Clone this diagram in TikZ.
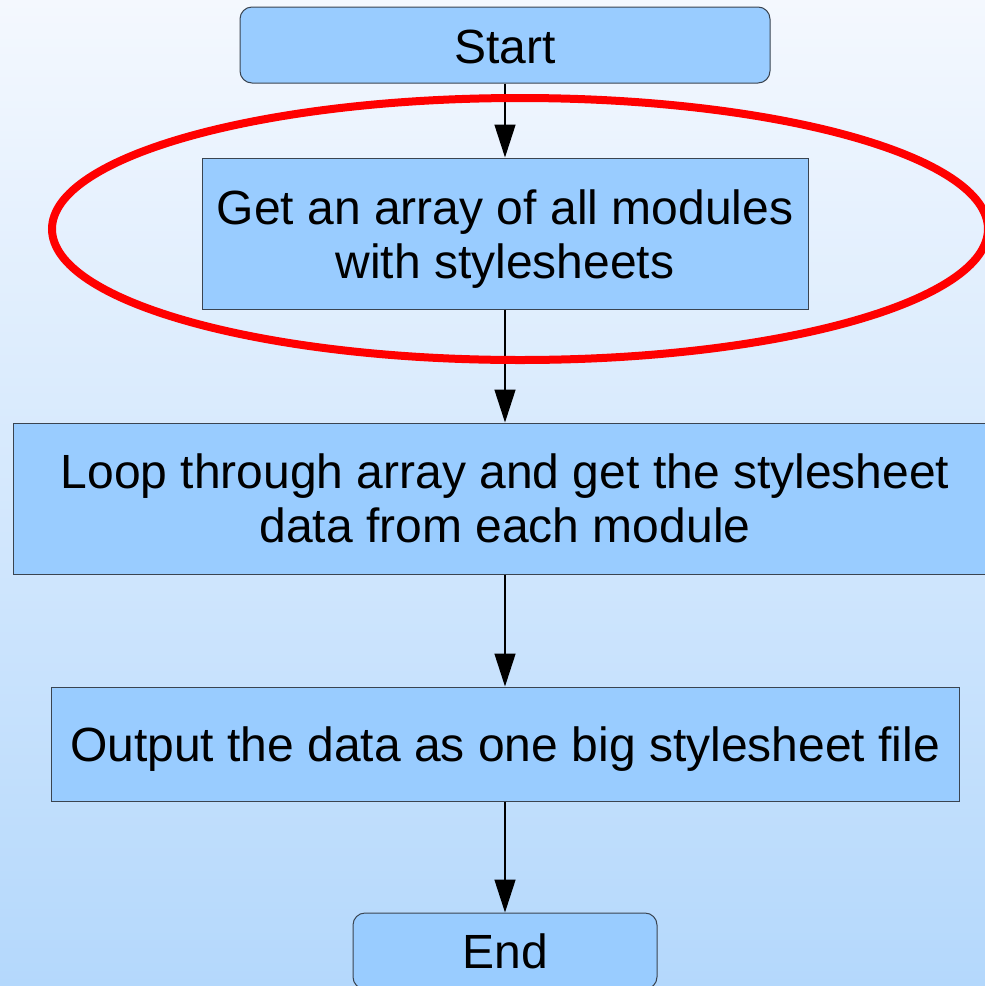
\documentclass[tikz,border=0pt]{standalone}
\usepackage{fontspec}
\setmainfont{Liberation Sans}
\usetikzlibrary{arrows.meta}
\definecolor{boxfill}{HTML}{99CCFF}
\definecolor{bgtop}{HTML}{F4F8FE}
\definecolor{bgbot}{HTML}{B4D8FC}
\definecolor{edge}{HTML}{3A4450}
\begin{document}
\begin{tikzpicture}[x=1pt,y=-1pt,
  boxbase/.style={draw=edge,line width=1pt,fill=boxfill,inner sep=0pt,align=center,
    font=\fontsize{48}{54}\selectfont},
  termbox/.style={boxbase,rounded corners=12pt},
  flowarrow/.style={draw=black,line width=1.5pt,-{Triangle[length=33pt,width=21pt]}}]
\useasboundingbox (0,0) rectangle (985,986);
\clip (0,0) rectangle (985,986);
\shade[top color=bgtop,bottom color=bgbot] (0,0) rectangle (985,986);
\node[termbox,minimum width=530pt,minimum height=76pt] (start) at (505,45) {\rule{0pt}{37pt}Start};
\node[boxbase,minimum width=606pt,minimum height=151pt] (b2) at (505,233.5) {\rule{0pt}{45pt}Get an array of all modules\\with stylesheets};
\node[boxbase,minimum width=984pt,minimum height=151pt] (b3) at (505,498.5) {Loop through array and get the stylesheet\\data from each module};
\node[boxbase,minimum width=908pt,minimum height=114pt] (b4) at (505,744) {\rule{0pt}{45pt}Output the data as one big stylesheet file};
\node[termbox,minimum width=304pt,minimum height=76pt] (end) at (505,951) {End};
\draw[flowarrow] (start) -- (b2);
\draw[flowarrow] (b2) -- (b3);
\draw[flowarrow] (b3) -- (b4);
\draw[flowarrow] (b4) -- (end);
\draw[red,line width=8pt] (520,229) ellipse [x radius=468pt,y radius=131pt];
\end{tikzpicture}
\end{document}
